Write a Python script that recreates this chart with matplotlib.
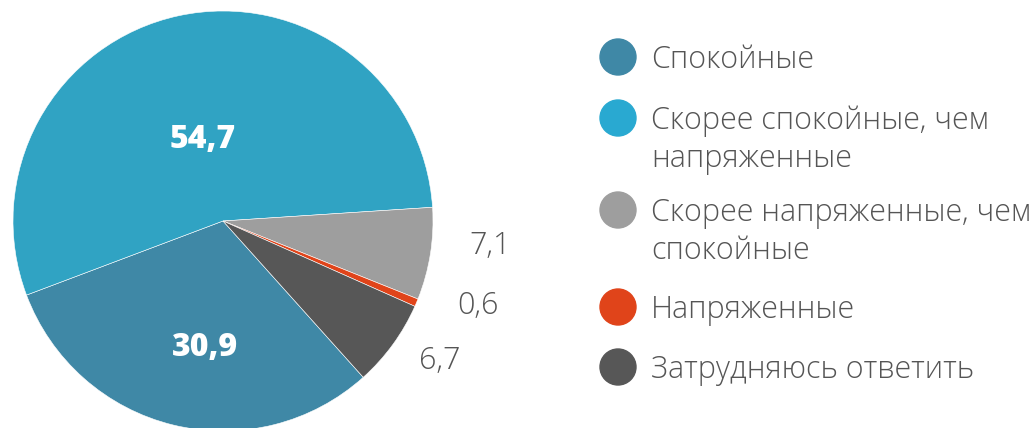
import matplotlib
matplotlib.use("Agg")
import matplotlib.pyplot as plt
from matplotlib.patches import Circle

labels = [["Спокойные"],
          ["Скорее спокойные, чем", "напряженные"],
          ["Скорее напряженные, чем", "спокойные"],
          ["Напряженные"],
          ["Затрудняюсь ответить"]]
values = [30.9, 54.7, 7.1, 0.6, 6.7]
value_text = ["30,9", "54,7", "7,1", "0,6", "6,7"]
pie_colors = ["#3f88a6", "#30a3c3", "#9e9e9e", "#e0441a", "#575757"]
legend_colors = ["#3f88a6", "#29a9d1", "#9e9e9e", "#e0441a", "#575757"]

plt.rcParams["font.family"] = ["Open Sans", "DejaVu Sans"]

W, H = 1035, 428
fig = plt.figure(figsize=(W / 100, H / 100), dpi=100)

# pie axes: center (223, 221) px, radius 210 px
cx, cy, r = 223, 221, 210
ax = fig.add_axes([(cx - r) / W, (H - cy - r) / H, 2 * r / W, 2 * r / H])
ax.pie(values, colors=pie_colors, startangle=311.9, counterclock=False,
       radius=1, wedgeprops=dict(linewidth=0.4, edgecolor="white"))
ax.set_xlim(-1, 1)
ax.set_ylim(-1, 1)
ax.set_aspect("equal")
ax.axis("off")

# overlay in pixel coords for labels and legend
ov = fig.add_axes([0, 0, 1, 1])
ov.set_xlim(0, W)
ov.set_ylim(H, 0)
ov.axis("off")

# value labels, positioned by baseline
inside_pos = {0: (205, 356), 1: (203, 148)}
outside_pos = {2: (490, 254), 3: (478, 314), 4: (440, 369)}
for i, (x, y) in inside_pos.items():
    ov.text(x, y, value_text[i], color="white", fontsize=23, fontweight=800,
            ha="center", va="baseline")
for i, (x, y) in outside_pos.items():
    ov.text(x, y, value_text[i], color="#555555", fontsize=22, fontweight="light",
            ha="center", va="baseline")

legend_y = [57, 118, 210, 307, 367]
for lines, col, y in zip(labels, legend_colors, legend_y):
    ov.add_patch(Circle((618, y), 18, color=col))
    for k, line in enumerate(lines):
        ov.text(651, y + 11 + 38 * k, line, color="#555555", fontsize=22,
                fontweight="light", ha="left", va="baseline")

fig.savefig("out.png", dpi=100)
